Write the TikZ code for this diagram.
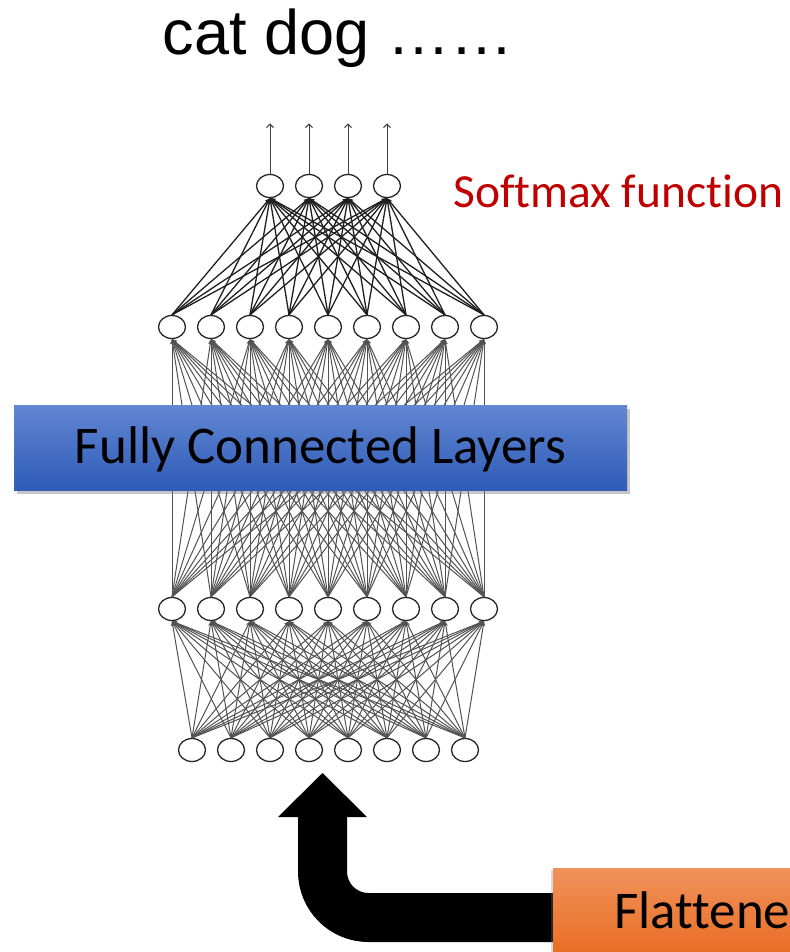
\documentclass[tikz,border=0pt]{standalone}
\usepackage{fontspec}
\setmainfont{Carlito}[Ligatures=NoCommon]
\newfontfamily\arialfont{Liberation Sans}
\usetikzlibrary{arrows.meta,shadows,shapes.geometric}
\definecolor{softred}{HTML}{C00000}
\definecolor{bluetop}{RGB}{98,134,210}
\definecolor{bluebot}{RGB}{46,92,184}
\definecolor{orangetop}{RGB}{241,146,92}
\definecolor{orangebot}{RGB}{230,104,26}
\begin{document}
\begin{tikzpicture}[x=1pt,y=-1pt,
  neuron/.style={ellipse, draw=black!85, line width=1.3pt, fill=white,
    minimum width=27pt, minimum height=23pt, inner sep=0pt},
  link/.style={draw=black!68, line width=1pt,
    -{Stealth[length=5pt,width=4pt]}},
  toplink/.style={draw=black!88, line width=1.3pt,
    -{Stealth[length=5.5pt,width=4.5pt]}},
  outlink/.style={draw=black!75, line width=1pt,
    -{Straight Barb[length=3.5pt,width=7pt]}},
  banner/.style={rectangle, inner sep=0pt},
  bigarrow/.style={draw=black, line width=49pt, rounded corners=46pt}
]
\useasboundingbox (0,0) rectangle (789,952);

% neurons, from the input layer up to the output layer
\foreach \i in {1,...,8} \node[neuron] (a\i) at ({192+39*(\i-1)},750) {};
\foreach \i in {1,...,9} \node[neuron] (b\i) at ({172+39*(\i-1)},609) {};
\foreach \i in {1,...,9} \node[neuron] (c\i) at ({172+39*(\i-1)},327) {};
\foreach \i in {1,...,4} \node[neuron] (d\i) at ({270+39*(\i-1)},186) {};

% dense connections between consecutive layers
\foreach \i in {1,...,8} \foreach \j in {1,...,9}
  \draw[link] (a\i.north) -- (b\j.south);
\foreach \i in {1,...,9} \foreach \j in {1,...,9}
  \draw[link] (b\i.north) -- (c\j.south);
\foreach \i in {1,...,9} \foreach \j in {1,...,4}
  \draw[toplink] (c\i.north) -- (d\j.south);

% outputs
\foreach \j in {1,...,4} {
  \coordinate (o\j) at ([yshift=50.5pt]d\j.north);
  \draw[outlink] (d\j.north) -- (o\j);
}

% labels
\node[font=\arialfont\fontsize{63}{72}\selectfont, anchor=base, inner sep=0pt]
  (title) at (338,55) {cat dog ……};
\node[anchor=base west, inner sep=0pt, text=softred,
  font=\fontsize{47.5}{55}\selectfont] (softmax) at (453,207) {Softmax function};

% fully connected banner
\node[banner, minimum width=613pt, minimum height=85pt,
  text height=44pt, text depth=13pt, font=\fontsize{53}{60}\selectfont,
  top color=bluetop, bottom color=bluebot,
  drop shadow={shadow xshift=3pt, shadow yshift=-4pt, opacity=0.45}]
  (fc) at (320.5,447.5) {Fully Connected Layers};

% flatten input box and the bent arrow feeding the network
\coordinate (tip) at (322.5,773);
\coordinate (headl) at (278,817);
\coordinate (headr) at (367,817);
\coordinate (bend) at (322.5,917.5);
\coordinate (headc) at (322.5,817);
\coordinate (tail) at (560,917.5);
\draw[bigarrow] (tail) -- (bend) -- (headc);
\fill[black] (headl) -- (tip) -- (headr) -- cycle;

\node[banner, anchor=west, minimum width=360pt, minimum height=99pt,
  top color=orangetop, bottom color=orangebot,
  drop shadow={shadow xshift=-2pt, shadow yshift=-2pt, opacity=0.3}]
  (flat) at (553,917.5) {};
\node[anchor=base west, inner sep=0pt, font=\fontsize{53}{60}\selectfont]
  (flattxt) at (614,928) {Flattened};
\end{tikzpicture}
\end{document}
